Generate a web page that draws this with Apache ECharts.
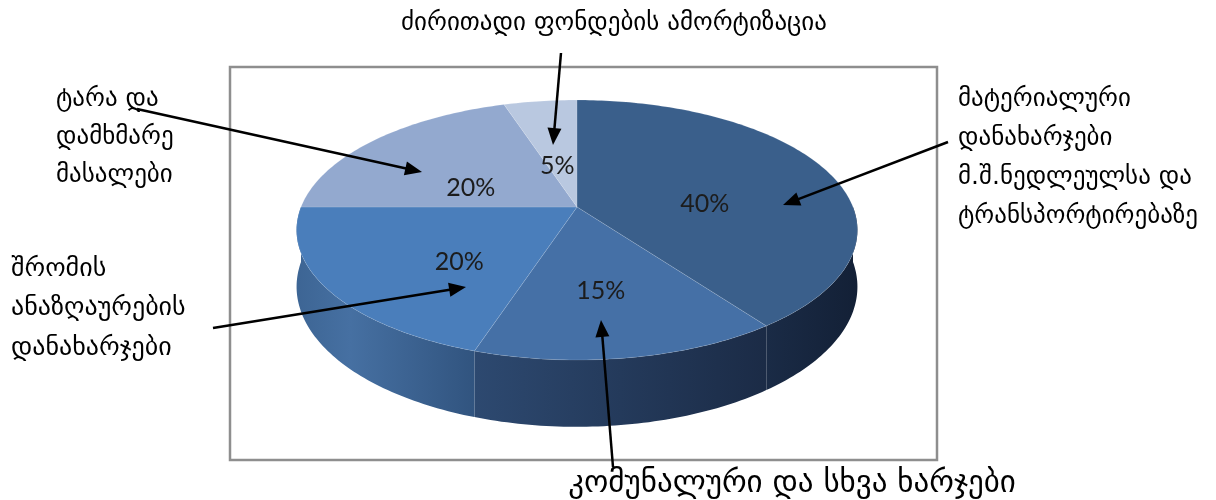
<!DOCTYPE html>
<html><head><meta charset="utf-8">
<script src="https://cdn.jsdelivr.net/npm/echarts@6/dist/echarts.min.js"></script>
<style>html,body{margin:0;padding:0;background:#fff}#c{width:1216px;height:500px}</style>
</head><body><div id="c"></div>
<script>
// ---- data ----
const categories = [
  'მატერიალური დანახარჯები მ.შ.ნედლეულსა და ტრანსპორტირებაზე',
  'კომუნალური და სხვა ხარჯები',
  'შრომის ანაზღაურების დანახარჯები',
  'ტარა და დამხმარე მასალები',
  'ძირითადი ფონდების ამორტიზაცია'
];
const values = [40, 15, 20, 20, 5];
const percentLabels = ['40%', '15%', '20%', '20%', '5%'];
const categoryLines = [
  ['მატერიალური', 'დანახარჯები', 'მ.შ.ნედლეულსა და', 'ტრანსპორტირებაზე'],
  ['კომუნალური და სხვა ხარჯები'],
  ['შრომის', 'ანაზღაურების', 'დანახარჯები'],
  ['ტარა და', 'დამხმარე', 'მასალები'],
  ['ძირითადი ფონდების ამორტიზაცია']
];

// ---- style / layout ----
const topColors = ['#3a5f8b', '#4570a6', '#4a7ebb', '#93a9cf', '#b9c8e0'];
const sideColors = [
  [[0, '#1a2b46'], [1, '#132036']],
  [[0, '#2d4970'], [1, '#1b2b46']],
  [[0, '#3d6594'], [0.3, '#4670a2'], [1, '#31547f']],
  [[0, '#7d93bd'], [1, '#6f86b0']],
  [[0, '#a5b5d3'], [1, '#98a9c8']]
];
const P = { cx: 577, cy: 207, a: 276, b: 125.9, k: 0.177, h: 55 };
const FONT = "'DejaVu Sans', sans-serif";
const annot = [
  { x: 958, y: 99, lh: 39, size: 25, align: 'left', from: [948, 142], to: [783, 205] },
  { x: 792, y: 484, lh: 0, size: 31, align: 'center', from: [613, 467], to: [601, 320] },
  { x: 11, y: 269, lh: 39.5, size: 26, align: 'left', from: [213, 328], to: [466, 287] },
  { x: 56, y: 99, lh: 38, size: 25, align: 'left', from: [137, 109], to: [422, 172] },
  { x: 614, y: 23, lh: 0, size: 25, align: 'center', from: [561, 53], to: [553, 145] }
];

const total = values.reduce((s, v) => s + v, 0);
function proj(t, r) {
  const u = Math.sin(t) * r, v = -Math.cos(t) * r, d = 1 - P.k * v;
  return [P.cx + P.a * u / d, P.cy + P.b * v / d];
}
function wallH(t) { return P.h / (1 - P.k * (-Math.cos(t))); }
function arc(s, e, fn) {
  const pts = []; const n = Math.max(2, Math.ceil((e - s) / (Math.PI / 180)));
  for (let j = 0; j <= n; j++) pts.push(fn(s + (e - s) * j / n));
  return pts;
}

function renderItem(params, api) {
  const i = params.dataIndex;
  let acc = 0; for (let j = 0; j < i; j++) acc += values[j];
  const s = acc / total * 2 * Math.PI, e = (acc + api.value(0)) / total * 2 * Math.PI;
  const children = [];
  const ss = Math.max(s, Math.PI / 2), ee = Math.min(e, 3 * Math.PI / 2);
  if (ss < ee) {
    const topR = arc(ss, ee, t => proj(t, 1));
    const botR = arc(ss, ee, t => { const p = proj(t, 1); return [p[0], p[1] + wallH(t)]; }).reverse();
    children.push({
      type: 'polygon', z2: 1,
      shape: { points: topR.concat(botR) },
      style: {
        fill: new echarts.graphic.LinearGradient(0, 0, 1, 0, sideColors[i].map(c => ({ offset: c[0], color: c[1] }))),
        stroke: null
      }
    });
  }
  const top = [[P.cx, P.cy]].concat(arc(s, e, t => proj(t, 1)));
  children.push({
    type: 'polygon', z2: 10,
    shape: { points: top },
    style: { fill: topColors[i], stroke: 'rgba(255,255,255,0.12)', lineWidth: 1 }
  });
  const mid = (s + e) / 2; const lp = proj(mid, 0.5);
  children.push({
    type: 'text', z2: 20,
    style: { text: percentLabels[i], x: lp[0], y: lp[1] + 16, align: 'center', verticalAlign: 'middle',
      fill: '#1c1c1c', font: "25px Lato, 'Open Sans', sans-serif" }
  });
  return { type: 'group', children };
}

const graphics = [{
  type: 'rect', z: -10,
  shape: { x: 230, y: 67, width: 707, height: 393 },
  style: { fill: 'none', stroke: '#8e8e8e', lineWidth: 2.5 }
}];
annot.forEach((A, i) => {
  categoryLines[i].forEach((ln, j) => {
    graphics.push({ type: 'text', z: 50, style: { text: ln, x: A.x, y: A.y + j * A.lh, align: A.align, verticalAlign: 'middle', fill: '#000', font: A.size + 'px ' + FONT } });
  });
  const [x1, y1] = A.from, [x2, y2] = A.to;
  const dx = x2 - x1, dy = y2 - y1, L = Math.hypot(dx, dy), ux = dx / L, uy = dy / L;
  const hl = 17, hw = 7;
  const bx = x2 - ux * hl, by = y2 - uy * hl;
  graphics.push({ type: 'line', z: 60, shape: { x1, y1, x2: bx + ux * 2, y2: by + uy * 2 }, style: { stroke: '#000', lineWidth: 2.5 } });
  graphics.push({ type: 'polygon', z: 60, shape: { points: [[x2, y2], [bx - uy * hw, by + ux * hw], [bx + uy * hw, by - ux * hw]] }, style: { fill: '#000' } });
});

const chart = echarts.init(document.getElementById('c'), null, { renderer: 'canvas' });
chart.setOption({
  animation: false,
  backgroundColor: '#fff',
  graphic: graphics,
  series: [{
    type: 'custom', coordinateSystem: 'none', renderItem,
    data: values.map((v, i) => ({ value: v, name: categories[i] }))
  }]
});
</script></body></html>
